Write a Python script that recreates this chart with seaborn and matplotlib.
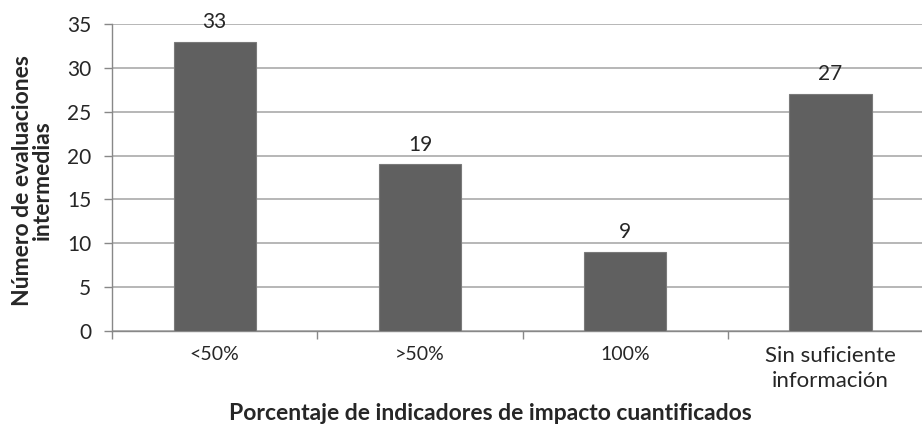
import matplotlib
matplotlib.use("Agg")
import matplotlib.pyplot as plt
import seaborn as sns
import pandas as pd

# data
categories = ["<50%", ">50%", "100%", "Sin suficiente\ninformación"]
counts = [33, 19, 9, 27]
y_ticks = [0, 5, 10, 15, 20, 25, 30, 35]

sns.set_theme(style="white")
plt.rcParams["font.family"] = ["Lato", "DejaVu Sans"]

df = pd.DataFrame({"cat": categories, "n": counts})

fig = plt.figure(figsize=(9.22, 4.37), dpi=100)
ax = fig.add_axes([112 / 922, 1 - 331 / 437, 810 / 922, 307 / 437])

sns.barplot(data=df, x="cat", y="n", color="#606060", width=0.4,
            saturation=1, edgecolor="#7a7a7a", linewidth=0.8, ax=ax, zorder=3)

ax.set_yticks(y_ticks)
ax.yaxis.grid(True, color="#a3a3a3", linewidth=1.1, zorder=0)
ax.set_axisbelow(True)

# category boundaries as tick marks, labels on the centres
ax.set_xticks([-0.5, 0.5, 1.5, 2.5, 3.5])
ax.set_xticklabels([])
ax.set_xticks(range(len(categories)), minor=True)
ax.set_xticklabels(categories, minor=True, fontsize=14, linespacing=1.3)
ax.tick_params(axis="x", which="major", direction="out", length=6, width=1,
               color="#888888", bottom=True)
ax.tick_params(axis="x", which="minor", length=0, pad=11)
ax.tick_params(axis="y", direction="out", length=6, width=1, color="#888888",
               left=True, labelsize=15, pad=9)
xlabels = ax.get_xticklabels(minor=True)
for lbl in xlabels:
    lbl.set_verticalalignment("top")
xlabels[-1].set_fontsize(16)

# last category runs past the right edge, as in the original
ax.set_ylim(0, 35)
ax.set_xlim(-0.5, 3.446)

for side in ["top", "right"]:
    ax.spines[side].set_visible(False)
for side in ["left", "bottom"]:
    ax.spines[side].set_color("#888888")
    ax.spines[side].set_linewidth(1)

ax.bar_label(ax.containers[0], fontsize=15, padding=7)

ax.set_xlabel("Porcentaje de indicadores de impacto cuantificados",
              fontsize=16.5, fontweight="bold")
ax.xaxis.set_label_coords((490 - 112) / 810, -0.235)
ax.set_ylabel("Número de evaluaciones\nintermedias", fontsize=16.5,
              fontweight="bold", linespacing=0.95)
ax.yaxis.set_label_coords(-0.073, 0.49)

fig.savefig("out.png", dpi=100)
